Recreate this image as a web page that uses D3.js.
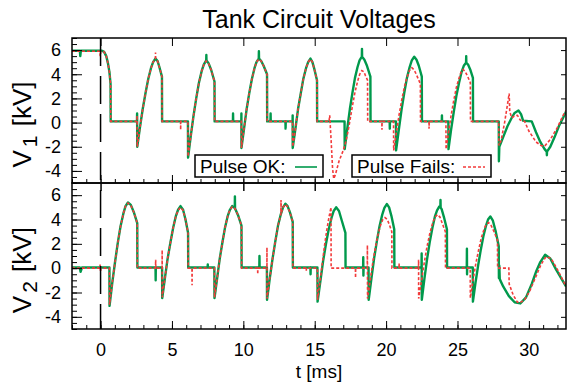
<!DOCTYPE html>
<html>
<head>
<meta charset="utf-8">
<script src="https://cdn.jsdelivr.net/npm/d3@7"></script>
<style>
  body { margin: 0; background: #fff; }
  svg text { font-family: "Liberation Sans", Arial, Helvetica, sans-serif; fill: #000; }
</style>
</head>
<body>
<svg id="chart" width="567" height="390"></svg>
<script>
// tick labels
const tickKV = [-4, -2, 0, 2, 4, 6]
const tickMs = [0, 5, 10, 15, 20, 25, 30]

// V1, pulse OK  [t ms, kV]
const v1Ok = [
  [-2.0, 5.95], [-1.45, 5.95], [-1.42, 5.5], [-1.38, 5.95], [0.1, 5.95], [0.25, 5.85], [0.4, 5.5], [0.52, 4.9], [0.62, 4.2], [0.70, 3.2], [0.71, 0.1],
  [2.55, 0.1], [2.56, 0.75], [2.57, -2.0],
  [2.76, -0.4], [2.95, 1.1], [3.15, 2.45], [3.34, 3.6], [3.53, 4.5], [3.68, 5.0], [3.85, 5.3], [3.99, 5.1], [4.12, 4.6], [4.30, 3.8], [4.31, 0.1],
  [6.12, 0.1], [6.13, -2.9],
  [6.32, -1.1], [6.51, 0.55], [6.70, 2.0], [6.89, 3.3], [7.08, 4.25], [7.23, 4.8], [7.40, 5.15], [7.41, 5.6], [7.42, 5.15], [7.57, 4.9], [7.75, 4.35], [7.98, 3.4], [7.99, 0.1],
  [9.27, 0.1], [9.28, 0.75], [9.29, 0.1], [9.86, 0.1], [9.865, 0.75], [9.87, -2.1],
  [10.05, -0.5], [10.23, 1.1], [10.41, 2.4], [10.60, 3.6], [10.78, 4.5], [10.92, 5.0], [11.08, 5.3], [11.09, 5.9], [11.10, 5.3], [11.25, 5.1], [11.42, 4.7], [11.66, 4.0], [11.67, 0.1],
  [11.9, 0.1], [11.91, 0.75], [11.92, 0.1], [12.95, 0.1], [12.96, -0.5], [12.97, 0.1], [13.45, 0.1], [13.455, 0.6], [13.46, -2.1],
  [13.65, -0.5], [13.83, 1.1], [14.02, 2.4], [14.20, 3.6], [14.39, 4.5], [14.54, 5.0], [14.70, 5.3], [14.84, 5.0], [14.98, 4.4], [15.16, 3.5], [15.17, 0.1],
  [17.09, 0.1], [17.10, -2.2],
  [17.28, -0.5], [17.46, 1.1], [17.64, 2.45], [17.82, 3.7], [18.00, 4.6], [18.14, 5.15], [18.30, 5.45], [18.31, 6.1], [18.32, 5.45], [18.48, 5.2], [18.66, 4.7], [18.90, 3.8], [18.91, 0.1],
  [20.25, 0.1], [20.26, -0.5], [20.27, 0.1], [20.69, 0.1], [20.70, -2.3],
  [20.89, -0.6], [21.08, 1.05], [21.27, 2.45], [21.46, 3.7], [21.65, 4.6], [21.80, 5.15], [21.97, 5.45], [22.13, 5.2], [22.29, 4.7], [22.50, 3.8], [22.51, 0.1],
  [23.9, 0.1], [23.91, 0.6], [23.92, 0.1], [24.36, 0.1], [24.37, -2.2],
  [24.55, -0.6], [24.74, 0.9], [24.92, 2.2], [25.11, 3.3], [25.29, 4.2], [25.44, 4.7], [25.60, 4.95], [25.61, 5.5], [25.62, 4.95], [25.74, 4.8], [25.89, 4.4], [26.08, 3.7], [26.09, 0.1],
  [27.89, 0.1], [27.90, -3.2], [27.93, -2.0],
  [28.2, -1.2], [28.5, -0.3], [28.8, 0.4], [29.0, 0.8], [29.27, 1.0], [29.45, 0.7], [29.6, 0.15], [30.2, 0.1], [30.5, -0.8], [30.8, -1.6], [31.1, -2.2], [31.25, -2.4], [31.26, -2.7], [31.27, -2.4], [31.5, -2.0], [31.8, -1.2], [32.1, -0.3], [32.4, 0.4], [32.6, 0.9]
]

// V1, pulse fails
const v1Fail = [
  [-2.0, 5.9], [-0.05, 5.9], [-0.02, 5.5], [0.02, 5.9], [0.1, 5.9], [0.25, 5.85], [0.4, 5.5], [0.52, 4.9], [0.62, 4.2], [0.70, 3.2], [0.71, 0.1],
  [2.55, 0.1], [2.56, 0.6], [2.57, -2.0],
  [2.76, -0.4], [2.95, 1.1], [3.15, 2.45], [3.34, 3.6], [3.53, 4.5], [3.68, 5.0], [3.84, 5.3], [3.85, 5.8], [3.86, 5.3], [3.99, 5.1], [4.12, 4.6], [4.30, 3.8], [4.31, 0.1],
  [5.6, 0.1], [5.61, -0.6], [5.62, 0.1], [6.12, 0.1], [6.13, -2.8],
  [6.32, -1.1], [6.51, 0.55], [6.70, 2.0], [6.89, 3.3], [7.08, 4.25], [7.23, 4.8], [7.40, 5.1], [7.57, 4.9], [7.75, 4.35], [7.98, 3.4], [7.99, 0.1],
  [9.86, 0.1], [9.87, -2.1],
  [10.05, -0.5], [10.23, 1.1], [10.41, 2.4], [10.60, 3.6], [10.78, 4.5], [10.92, 5.0], [11.08, 5.25], [11.25, 5.1], [11.42, 4.7], [11.66, 4.0], [11.67, 0.1],
  [13.45, 0.1], [13.46, -2.0],
  [13.65, -0.5], [13.83, 1.1], [14.02, 2.4], [14.20, 3.6], [14.39, 4.5], [14.54, 5.0], [14.70, 5.25], [14.84, 5.0], [14.98, 4.4], [15.16, 3.5], [15.17, 0.1],
  [16.0, 0.1], [16.05, 0.6], [16.15, -1.5], [16.25, -3.8], [16.33, -4.65], [16.45, -4.3], [16.7, -3.2], [17.0, -2.3], [17.2, -1.5], [17.4, -0.3], [17.6, 1.1], [17.8, 2.4], [18.0, 3.4], [18.15, 4.0], [18.3, 4.3], [18.45, 4.2], [18.55, 3.9], [18.7, 3.5], [18.71, 0.1],
  [19.7, 0.1], [19.71, -0.6], [19.72, 0.1], [20.52, 0.1], [20.53, -2.3],
  [20.72, -0.8], [20.91, 0.65], [21.10, 1.9], [21.29, 3.0], [21.48, 3.8], [21.63, 4.3], [21.80, 4.55], [21.97, 4.35], [22.15, 3.9], [22.40, 3.2], [22.41, 0.1],
  [23.0, 0.1], [23.01, -0.5], [23.02, 0.1], [24.19, 0.1], [24.20, -2.2],
  [24.38, -0.75], [24.56, 0.65], [24.74, 1.85], [24.92, 2.9], [25.10, 3.65], [25.24, 4.15], [25.40, 4.4], [25.55, 4.2], [25.70, 3.85], [25.90, 3.3], [25.91, 0.1],
  [27.89, 0.1], [27.90, -1.9], [28.05, -1.5], [28.3, 0.0], [28.5, 1.5], [28.62, 2.4], [28.66, 0.9], [28.8, 0.4], [29.0, 0.55], [29.2, 0.6], [29.4, 0.2], [29.7, 0.1],
  [30.0, -0.7], [30.5, -1.6], [30.85, -1.9], [31.1, -1.95], [31.5, -1.4], [32.0, -0.4], [32.4, 0.6], [32.6, 1.0]
]

// V2, pulse OK
const v2Ok = [
  [-2.0, 0.05], [-1.45, 0.05], [-1.4, -0.3], [-1.3, 0.05], [0.62, 0.05], [0.63, -3.1],
  [0.82, -1.2], [1.02, 0.55], [1.21, 2.1], [1.40, 3.45], [1.60, 4.5], [1.75, 5.1], [1.92, 5.4], [2.12, 5.2], [2.33, 4.6], [2.57, 3.7], [2.58, 0.05],
  [3.85, 0.05], [3.86, -1.0], [3.87, 0.05], [4.31, 0.05], [4.32, -2.45],
  [4.51, -0.8], [4.70, 0.8], [4.90, 2.15], [5.09, 3.35], [5.28, 4.3], [5.43, 4.8], [5.60, 5.1], [5.78, 4.8], [5.95, 4.0], [6.13, 2.9], [6.14, 0.05],
  [7.5, 0.05], [7.51, 0.3], [7.52, 0.05], [7.97, 0.05], [7.98, -2.45],
  [8.17, -0.8], [8.35, 0.8], [8.54, 2.15], [8.72, 3.35], [8.91, 4.3], [9.06, 4.8], [9.22, 5.1], [9.40, 4.95], [9.41, 5.9], [9.42, 4.9], [9.63, 4.35], [9.87, 3.5], [9.88, 0.05],
  [11.12, 0.05], [11.13, 1.0], [11.14, 0.05], [11.65, 0.05], [11.66, -2.6],
  [11.85, -0.85], [12.05, 0.8], [12.24, 2.2], [12.43, 3.5], [12.63, 4.45], [12.78, 5.0], [12.95, 5.3], [13.10, 5.1], [13.26, 4.6], [13.46, 3.8], [13.47, 0.05],
  [14.7, 0.05], [14.71, -0.5], [14.72, 0.05], [15.19, 0.05], [15.20, -2.75],
  [15.40, -1.05], [15.59, 0.6], [15.79, 2.0], [15.98, 3.2], [16.18, 4.15], [16.33, 4.7], [16.50, 5.0], [16.70, 4.7], [16.90, 3.9], [17.15, 2.9], [17.16, 0.05],
  [18.39, 0.05], [18.40, 0.9], [18.41, -0.6], [18.42, 0.05], [18.77, 0.05], [18.78, -2.6],
  [18.97, -0.85], [19.16, 0.8], [19.35, 2.2], [19.54, 3.45], [19.73, 4.4], [19.88, 4.95], [20.05, 5.27], [20.21, 5.0], [20.37, 4.3], [20.57, 3.2], [20.58, 0.05],
  [22.48, 0.05], [22.49, 1.2], [22.50, -2.6],
  [22.68, -0.9], [22.87, 0.75], [23.05, 2.1], [23.24, 3.3], [23.42, 4.25], [23.57, 4.75], [23.73, 5.07], [23.80, 5.0], [23.81, 5.6], [23.82, 4.98], [23.89, 4.85], [24.05, 4.2], [24.26, 3.2], [24.27, 0.05],
  [25.65, 0.05], [25.66, 1.6], [25.67, -0.5], [25.68, 0.05], [26.07, 0.05], [26.08, -2.75],
  [26.26, -1.2], [26.45, 0.25], [26.63, 1.5], [26.81, 2.6], [27.00, 3.5], [27.14, 4.0], [27.30, 4.25], [27.48, 3.9], [27.68, 3.0], [27.89, 1.8], [27.90, -0.8], [27.93, 0.2], [27.96, -0.9],
  [28.2, -1.5], [28.6, -2.3], [29.0, -2.8], [29.4, -2.9], [29.8, -2.4], [30.2, -1.3], [30.5, -0.3], [30.8, 0.5], [31.14, 1.1], [31.5, 0.8], [31.9, -0.1], [32.3, -0.9], [32.6, -1.5]
]

// V2, pulse fails
const v2Fail = [
  [-2.0, 0.0], [-0.05, 0.0], [-0.03, 0.3], [0.0, -0.3], [0.03, 0.0], [0.62, 0.0], [0.63, -3.0],
  [0.82, -1.2], [1.02, 0.55], [1.21, 2.1], [1.40, 3.45], [1.60, 4.5], [1.75, 5.1], [1.92, 5.35], [2.12, 5.15], [2.33, 4.6], [2.57, 3.7], [2.58, 0.0],
  [3.85, 0.0], [3.86, 0.7], [3.87, 0.0], [4.31, 0.0], [4.315, 1.5], [4.32, -2.4],
  [4.51, -0.8], [4.70, 0.8], [4.90, 2.15], [5.09, 3.35], [5.28, 4.3], [5.43, 4.75], [5.60, 5.0], [5.78, 4.75], [5.95, 4.0], [6.13, 2.9], [6.14, 0.0],
  [6.40, 0.0], [6.41, -1.4], [6.42, 0.0], [7.97, 0.0], [7.98, -2.4],
  [8.17, -0.8], [8.35, 0.8], [8.54, 2.15], [8.72, 3.35], [8.91, 4.3], [9.06, 4.8], [9.22, 5.05], [9.42, 4.9], [9.63, 4.35], [9.87, 3.5], [9.88, 0.0],
  [11.0, 0.0], [11.01, -0.5], [11.02, 0.0], [11.65, 0.0], [11.655, 1.7], [11.66, -2.5],
  [11.85, -0.85], [12.05, 0.8], [12.24, 2.2], [12.43, 3.5], [12.63, 4.45], [12.64, 5.6], [12.65, 4.5], [12.78, 5.0], [12.95, 5.25], [13.10, 5.05], [13.26, 4.6], [13.46, 3.8], [13.47, 0.0],
  [14.4, 0.0], [14.41, -0.2], [14.42, 0.0], [15.19, 0.0], [15.20, -2.6],
  [15.36, -1.2], [15.52, 0.3], [15.68, 1.8], [15.84, 3.1], [16.0, 4.2], [16.14, 5.0], [16.15, 0.0],
  [17.85, 0.0], [17.86, -0.8], [17.87, 0.0], [18.68, 0.0], [18.69, 1.9], [18.70, -2.5],
  [18.89, -1.0], [19.07, 0.5], [19.26, 1.75], [19.44, 2.8], [19.63, 3.6], [19.77, 4.0], [19.92, 4.16], [20.08, 4.0], [20.22, 3.6], [20.40, 3.0], [20.41, 0.0],
  [20.9, 0.0], [20.91, 0.4], [20.92, 0.0], [22.27, 0.0], [22.275, 0.7], [22.28, -2.5],
  [22.48, -1.0], [22.68, 0.5], [22.87, 1.8], [23.07, 2.9], [23.27, 3.75], [23.43, 4.2], [23.60, 4.4], [23.77, 4.2], [23.93, 3.7], [24.15, 3.0], [24.16, 0.0],
  [25.89, 0.0], [25.90, -2.45],
  [26.09, -1.0], [26.28, 0.35], [26.48, 1.5], [26.67, 2.5], [26.86, 3.2], [27.01, 3.6], [27.18, 3.75], [27.36, 3.5], [27.56, 3.0], [27.80, 2.3], [27.81, 0.0],
  [28.6, 0.0], [28.62, -1.3], [28.9, -2.2], [29.2, -2.8], [29.35, -2.85], [29.7, -2.6], [30.05, -1.9], [30.45, -0.8], [30.85, 0.3], [31.2, 0.95], [31.55, 0.8], [31.95, 0.0], [32.3, -0.8], [32.6, -1.5]
]

const green = '#00994c'
const red = '#f23b3b'

const svg = d3.select('#chart')
const left = 72
const right = 566

const x = d3.scaleLinear().domain([-2, 32.6]).range([left, right])
const yTop = d3.scaleLinear().domain([-5, 7]).range([183, 38])
const yBot = d3.scaleLinear().domain([-5, 7]).range([329, 183])

const minorKV = d3.range(-5, 7.01, 0.5)
const minorMs = d3.range(-2, 32.7, 1)
const fmt = d => String(d)

function panel (y, id, ok, fail, label, showX) {
  const top = y.range()[1]
  const bottom = y.range()[0]

  svg.append('clipPath').attr('id', id)
    .append('rect')
    .attr('x', left).attr('y', top)
    .attr('width', right - left).attr('height', bottom - top)

  const line = d3.line()
    .x(d => x(d[0]))
    .y(d => y(d[1]))

  const plot = svg.append('g').attr('clip-path', 'url(#' + id + ')')

  plot.append('path')
    .datum(ok)
    .attr('d', line)
    .attr('fill', 'none')
    .attr('stroke', green)
    .attr('stroke-width', 2.4)
    .attr('stroke-linejoin', 'round')

  plot.append('path')
    .datum(fail)
    .attr('d', line)
    .attr('fill', 'none')
    .attr('stroke', red)
    .attr('stroke-width', 1.6)
    .attr('stroke-dasharray', '3,2')

  // left axis, major + minor, ticks pointing in
  svg.append('g')
    .attr('transform', 'translate(' + left + ',0)')
    .call(d3.axisLeft(y).tickValues(minorKV).tickSize(-5).tickFormat(''))
    .call(g => g.select('.domain').remove())

  svg.append('g')
    .attr('class', 'ylab')
    .attr('transform', 'translate(' + left + ',0)')
    .call(d3.axisLeft(y).tickValues(tickKV).tickSize(-10).tickPadding(11).tickFormat(fmt))
    .call(g => g.select('.domain').remove())

  // right axis
  svg.append('g')
    .attr('transform', 'translate(' + right + ',0)')
    .call(d3.axisRight(y).tickValues(tickKV).tickSize(-5).tickFormat(''))
    .call(g => g.select('.domain').remove())

  // top edge ticks
  svg.append('g')
    .attr('transform', 'translate(0,' + top + ')')
    .call(d3.axisTop(x).tickValues(minorMs).tickSize(-4).tickFormat(''))
    .call(d3.axisTop(x).tickValues(tickMs).tickSize(-8).tickFormat(''))
    .call(g => g.select('.domain').remove())

  // bottom edge ticks
  const b = svg.append('g')
    .attr('transform', 'translate(0,' + bottom + ')')
  b.append('g')
    .call(d3.axisBottom(x).tickValues(minorMs).tickSize(-4).tickFormat(''))
    .call(g => g.select('.domain').remove())
  b.append('g')
    .attr('class', showX ? 'xlab' : '')
    .call(d3.axisBottom(x).tickValues(tickMs).tickSize(-8).tickPadding(14)
      .tickFormat(showX ? fmt : ''))
    .call(g => g.select('.domain').remove())

  svg.append('rect')
    .attr('x', left).attr('y', top)
    .attr('width', right - left).attr('height', bottom - top)
    .attr('fill', 'none')
    .attr('stroke', '#000')
    .attr('stroke-width', 1.5)

  // axis title, centred near the zero line
  const t = svg.append('text')
    .attr('transform', 'translate(31,' + (y(0) + 2) + ') rotate(-90)')
    .attr('text-anchor', 'middle')
    .style('font-size', '26px')
  t.append('tspan').text('V')
  t.append('tspan').attr('dx', 3).attr('dy', 6).style('font-size', '21px').text(label)
  t.append('tspan').attr('dx', 2).attr('dy', -6).text(' [kV]')
}

panel(yTop, 'clipTop', v1Ok, v1Fail, '1', false)
panel(yBot, 'clipBot', v2Ok, v2Fail, '2', true)

// ticks that cross the shared edge go both ways
svg.append('g')
  .attr('transform', 'translate(0,183)')
  .call(d3.axisBottom(x).tickValues(minorMs).tickSize(4).tickFormat(''))
  .call(d3.axisBottom(x).tickValues(tickMs).tickSize(8).tickFormat(''))
  .call(g => g.select('.domain').remove())

svg.selectAll('.tick line').attr('stroke', '#000').attr('stroke-width', 1)
svg.selectAll('.ylab text, .xlab text')
  .style('font-size', '18px')
  .style('font-family', '"Liberation Sans", Arial, sans-serif')

// t = 0 marker
svg.append('line')
  .attr('x1', x(0)).attr('x2', x(0))
  .attr('y1', 38).attr('y2', 329)
  .attr('stroke', '#000')
  .attr('stroke-width', 1.5)
  .attr('stroke-dasharray', '28,10')

// legend
const legend = [
  { label: 'Pulse OK:', x: 195, w: 128, color: green, dash: null, sw: 1.6, lx: 295 },
  { label: 'Pulse Fails:', x: 352, w: 139, color: red, dash: '3,2', sw: 1.3, lx: 463 }
]
const lg = svg.selectAll('.legend')
  .data(legend)
  .enter()
  .append('g')
  .attr('class', 'legend')

lg.append('rect')
  .attr('x', d => d.x).attr('y', 155)
  .attr('width', d => d.w).attr('height', 22)
  .attr('fill', '#fff')
  .attr('stroke', '#000')
  .attr('stroke-width', 1.5)

lg.append('text')
  .attr('x', d => d.x + 5).attr('y', 173)
  .style('font-size', '19px')
  .text(d => d.label)

lg.append('line')
  .attr('x1', d => d.lx).attr('x2', d => d.lx + 22)
  .attr('y1', 167).attr('y2', 167)
  .attr('stroke', d => d.color)
  .attr('stroke-width', d => d.sw)
  .attr('stroke-dasharray', d => d.dash)

svg.append('text')
  .attr('x', (left + right) / 2).attr('y', 28)
  .attr('text-anchor', 'middle')
  .style('font-size', '25px')
  .text('Tank Circuit Voltages')

svg.append('text')
  .attr('x', (left + right) / 2).attr('y', 378)
  .attr('text-anchor', 'middle')
  .style('font-size', '19px')
  .text('t [ms]')
</script>
</body>
</html>
